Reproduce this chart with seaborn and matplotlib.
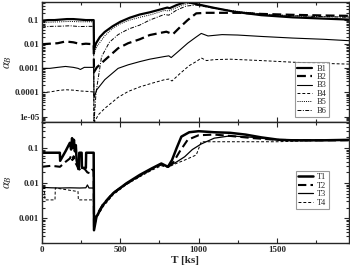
import numpy as np
import pandas as pd
import matplotlib
matplotlib.use("Agg")
import matplotlib.pyplot as plt
import matplotlib.ticker as mticker
import seaborn as sns

# ---- top panel: B1..B6 ----
b1_t = [0, 40, 80, 120, 160, 200, 240, 280, 330, 332, 345, 370, 400, 450, 500, 560, 624, 688, 760, 800, 815, 860, 920, 960, 1030, 1100, 1230, 1400, 1600, 1800, 1960]
b1_v = [0.095, 0.1, 0.1, 0.105, 0.11, 0.11, 0.105, 0.1, 0.1, 0.006, 0.011, 0.02, 0.032, 0.055, 0.085, 0.125, 0.17, 0.21, 0.28, 0.33, 0.31, 0.42, 0.57, 0.5, 0.4, 0.32, 0.22, 0.16, 0.13, 0.115, 0.105]

b2_t = [0, 50, 100, 150, 200, 250, 280, 330, 332, 350, 401, 486, 550, 624, 688, 794, 836, 880, 930, 985, 1050, 1150, 1261, 1400, 1600, 1800, 1960]
b2_v = [0.01, 0.0105, 0.011, 0.013, 0.012, 0.01, 0.0105, 0.01, 0.0007, 0.0011, 0.0022, 0.0068, 0.011, 0.016, 0.024, 0.033, 0.026, 0.05, 0.1, 0.19, 0.2, 0.2, 0.2, 0.18, 0.165, 0.155, 0.15]

b3_t = [0, 50, 100, 150, 200, 230, 245, 270, 330, 332, 350, 401, 486, 550, 624, 688, 783, 810, 825, 870, 930, 980, 1017, 1060, 1150, 1250, 1400, 1600, 1800, 1960]
b3_v = [0.001, 0.001, 0.0011, 0.0012, 0.0011, 0.001, 0.0009, 0.0011, 0.0011, 6e-5, 1.3e-4, 3.4e-4, 0.001, 0.0014, 0.0019, 0.0024, 0.0031, 0.0033, 0.0028, 0.005, 0.011, 0.019, 0.028, 0.022, 0.025, 0.024, 0.021, 0.018, 0.016, 0.014]

b4_t = [0, 50, 100, 150, 200, 250, 300, 330, 332, 360, 401, 486, 550, 624, 700, 783, 810, 830, 880, 940, 990, 1017, 1050, 1100, 1200, 1400, 1600, 1800, 1960]
b4_v = [1e-4, 1.05e-4, 1.2e-4, 1.3e-4, 1.25e-4, 1.15e-4, 1.1e-4, 1.05e-4, 5.5e-6, 1.2e-5, 2.2e-5, 6.3e-5, 1.1e-4, 1.7e-4, 2.4e-4, 3.4e-4, 3.6e-4, 3.0e-4, 6e-4, 1.3e-3, 2e-3, 2.7e-3, 2.1e-3, 2.3e-3, 2.4e-3, 2.1e-3, 1.8e-3, 1.6e-3, 1.5e-3]

b5_t = [0, 60, 120, 180, 240, 300, 330, 332, 350, 400, 450, 500, 560, 624, 700, 780, 810, 860, 910, 960, 1000, 1100, 1200, 1400, 1600, 1800, 1960]
b5_v = [0.08, 0.082, 0.085, 0.088, 0.085, 0.085, 0.085, 0.004, 0.008, 0.022, 0.045, 0.07, 0.1, 0.13, 0.17, 0.25, 0.24, 0.33, 0.45, 0.52, 0.45, 0.32, 0.25, 0.18, 0.15, 0.14, 0.135]

b6_t = [0, 60, 120, 180, 240, 300, 330, 332, 345, 380, 430, 486, 550, 624, 688, 780, 810, 860, 920, 980, 1050, 1150, 1300, 1500, 1700, 1960]
b6_v = [0.052, 0.055, 0.056, 0.058, 0.054, 0.055, 0.055, 5.5e-6, 1e-4, 0.003, 0.012, 0.025, 0.042, 0.062, 0.1, 0.17, 0.16, 0.26, 0.38, 0.42, 0.35, 0.27, 0.2, 0.16, 0.145, 0.13]

# ---- bottom panel: T1..T4 ----
t1_t = [0, 114, 116, 150, 178, 186, 192, 198, 204, 210, 216, 221, 232, 236, 238, 253, 255, 280, 282, 330, 332, 348, 390, 454, 539, 624, 700, 762, 804, 830, 860, 890, 940, 1000, 1100, 1200, 1300, 1400, 1516, 1600, 1800, 1960]
t1_v = [0.073, 0.073, 0.043, 0.08, 0.14, 0.09, 0.19, 0.1, 0.17, 0.08, 0.12, 0.045, 0.025, 0.03, 0.073, 0.073, 0.027, 0.027, 0.073, 0.073, 4.5e-4, 0.0011, 0.0024, 0.0051, 0.0098, 0.017, 0.026, 0.036, 0.029, 0.045, 0.1, 0.21, 0.28, 0.3, 0.28, 0.27, 0.24, 0.2, 0.17, 0.165, 0.165, 0.17]

t2_t = [0, 60, 115, 150, 178, 186, 194, 202, 210, 232, 250, 270, 290, 306, 320, 330, 332, 348, 390, 454, 539, 624, 700, 762, 804, 840, 880, 930, 1000, 1100, 1200, 1350, 1500, 1700, 1960]
t2_v = [0.029, 0.031, 0.029, 0.04, 0.05, 0.06, 0.045, 0.058, 0.04, 0.027, 0.022, 0.026, 0.02, 0.019, 0.024, 0.022, 5.5e-4, 0.0012, 0.0025, 0.0052, 0.0095, 0.016, 0.025, 0.034, 0.028, 0.04, 0.08, 0.17, 0.23, 0.24, 0.22, 0.19, 0.17, 0.165, 0.165]

t3_t = [0, 60, 120, 180, 240, 280, 290, 300, 330, 332, 348, 390, 454, 539, 624, 700, 762, 804, 860, 911, 960, 1017, 1100, 1200, 1350, 1500, 1700, 1960]
t3_v = [0.0075, 0.0073, 0.0072, 0.0073, 0.0072, 0.0073, 0.0088, 0.0072, 0.0072, 5.5e-4, 0.0011, 0.0023, 0.005, 0.0095, 0.016, 0.025, 0.034, 0.029, 0.04, 0.056, 0.09, 0.13, 0.19, 0.22, 0.2, 0.17, 0.165, 0.165]

t4_t = [0, 15, 19, 83, 85, 150, 230, 232, 330, 332, 348, 390, 454, 539, 624, 700, 762, 804, 850, 911, 985, 1017, 1100, 1300, 1500, 1700, 1960]
t4_v = [0.007, 0.007, 0.0033, 0.0033, 0.0072, 0.0065, 0.0057, 0.0033, 0.0033, 5.5e-4, 0.001, 0.0021, 0.0046, 0.009, 0.015, 0.023, 0.031, 0.028, 0.035, 0.045, 0.063, 0.15, 0.15, 0.15, 0.15, 0.16, 0.165]

top_series = [("B1", b1_t, b1_v, "-", 1.6),
              ("B2", b2_t, b2_v, (0, (4, 2)), 1.6),
              ("B3", b3_t, b3_v, "-", 0.8),
              ("B4", b4_t, b4_v, (0, (3, 2)), 0.7),
              ("B5", b5_t, b5_v, (0, (1, 1.2)), 0.7),
              ("B6", b6_t, b6_v, (0, (4, 1.5, 1, 1.5)), 0.7)]
bot_series = [("T1", t1_t, t1_v, "-", 1.8),
              ("T2", t2_t, t2_v, (0, (4, 2)), 1.5),
              ("T3", t3_t, t3_v, "-", 0.9),
              ("T4", t4_t, t4_v, (0, (3, 2)), 0.7)]

sns.set_theme(style="ticks")
plt.rcParams['font.family'] = ['Liberation Serif', 'DejaVu Serif']
plt.rcParams['mathtext.fontset'] = 'stix'

fig = plt.figure(figsize=(3.5, 2.66), dpi=100)
ax1 = fig.add_axes([0.12, 0.5414, 0.877, 0.451])
ax2 = fig.add_axes([0.12, 0.0865, 0.877, 0.455], sharex=ax1)


def draw(ax, series):
    for name, t, v, ls, lw in series:
        df = pd.DataFrame({"T": t, "a": v})
        sns.lineplot(data=df, x="T", y="a", ax=ax, color="black", linestyle=ls,
                     linewidth=lw, label=name, sort=False, estimator=None)


draw(ax1, top_series)
draw(ax2, bot_series)

fmt = mticker.FuncFormatter(lambda y, _: "%g" % y)
for ax, ylim, ticks in [(ax1, (6e-6, 0.56), [1e-5, 1e-4, 1e-3, 1e-2, 0.1]),
                        (ax2, (1.95e-4, 0.55), [1e-3, 1e-2, 0.1])]:
    ax.set_yscale("log")
    ax.set_ylim(*ylim)
    ax.set_yticks(ticks)
    ax.yaxis.set_major_formatter(fmt)
    ax.yaxis.set_minor_locator(mticker.LogLocator(base=10, subs=np.arange(2, 10)))
    ax.yaxis.set_minor_formatter(mticker.NullFormatter())
    ax.set_xlim(0, 1960)
    ax.xaxis.set_major_locator(mticker.MultipleLocator(500))
    ax.xaxis.set_minor_locator(mticker.MultipleLocator(250))
    ax.tick_params(which="both", direction="in", top=True, right=True, width=0.8,
                   labelsize=6.5, pad=2)
    ax.tick_params(which="major", length=3.5)
    ax.tick_params(which="minor", length=2)
    for lab in ax.get_yticklabels() + ax.get_xticklabels():
        lab.set_fontweight("bold")
    for sp in ax.spines.values():
        sp.set_linewidth(1.0)
    ax.set_ylabel(r"$\alpha_B$", fontsize=9)
    ax.yaxis.set_label_coords(-0.092, 0.5)
    ax.set_xlabel("")

ax1.tick_params(labelbottom=False)
ax2.set_xlabel("T [ks]", fontsize=8, fontweight="bold")
ax2.xaxis.set_label_coords(0.466, -0.105)

for ax, anchor in [(ax1, (0.935, 0.04)), (ax2, (0.935, 0.28))]:
    leg = ax.legend(loc="lower right", bbox_to_anchor=anchor, fontsize=6,
                    frameon=True, fancybox=False, handlelength=1.8,
                    labelspacing=0.05, borderpad=0.3, handletextpad=0.5,
                    borderaxespad=0)
    leg.get_frame().set_edgecolor("#808080")
    leg.get_frame().set_linewidth(0.8)

fig.savefig("out.png", dpi=100)
